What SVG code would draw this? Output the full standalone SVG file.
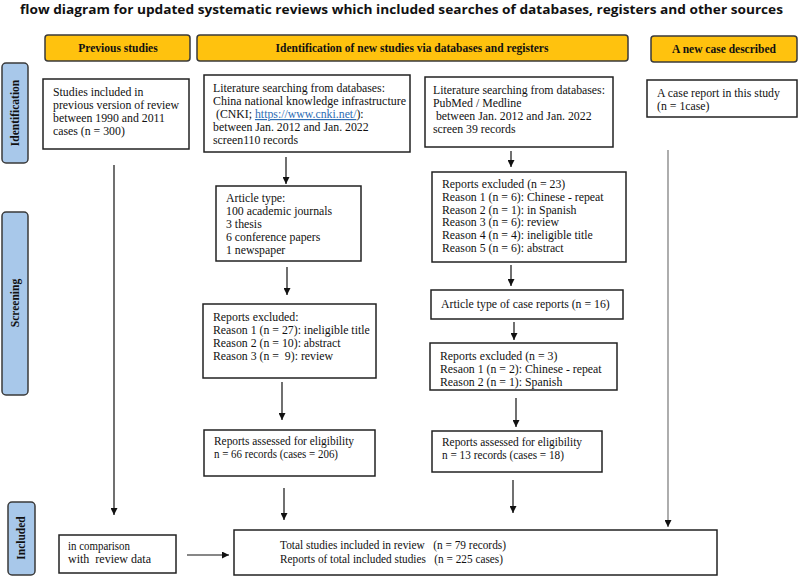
<svg xmlns="http://www.w3.org/2000/svg" width="800" height="577" viewBox="0 0 800 577">
<style>
.bg{fill:#ffffff}
.hdr rect{fill:#ffc20e;stroke:#3a3a3a;stroke-width:1.5}
.hdr text{font-family:"Liberation Serif",serif;font-weight:bold;font-size:11.5px;fill:#111;text-anchor:middle}
.side rect{fill:#a8c8ea;stroke:#3a3a3a;stroke-width:1.5}
.side text{font-family:"Liberation Serif",serif;font-weight:bold;font-size:11.5px;fill:#111;text-anchor:middle}
.box rect{fill:#fff;stroke:#222;stroke-width:1.5}
.box text{font-family:"Liberation Serif",serif;font-size:11.8px;fill:#111;white-space:pre}
.title{font-family:"Open Sans","Liberation Sans",sans-serif;font-weight:700;font-size:12.5px;fill:#111}
.link{fill:#2e6db4;text-decoration:underline}
.conn line{stroke:#111;stroke-width:1.2}
.conn line.grey{stroke:#777}
</style>
<defs>
<marker id="ah" viewBox="0 0 10 10" refX="10" refY="5" markerWidth="7" markerHeight="7" markerUnits="userSpaceOnUse" orient="auto">
<path d="M0,0 L10,5 L0,10 z" fill="#111"/>
</marker>
</defs>
<rect class="bg" x="0" y="0" width="800" height="577"/>
<text class="title" x="20" y="14" textLength="763" lengthAdjust="spacingAndGlyphs">flow diagram for updated systematic reviews which included searches of databases, registers and other sources</text>

<g id="hdr-previous" class="hdr"><rect x="45" y="35" width="145" height="26" rx="3"/><text x="118" y="52">Previous studies</text></g>
<g id="hdr-identification" class="hdr"><rect x="197" y="35" width="431" height="26" rx="3"/><text x="412" y="52">Identification of new studies via databases and registers</text></g>
<g id="hdr-newcase" class="hdr"><rect x="651" y="36" width="146" height="26" rx="3"/><text x="724" y="53">A new case described</text></g>

<g id="side-identification" class="side"><rect x="2" y="63" width="26" height="100" rx="4"/><text transform="translate(19,113) rotate(-90)">Identification</text></g>
<g id="side-screening" class="side"><rect x="2" y="212" width="26" height="183" rx="4"/><text transform="translate(19,303) rotate(-90)">Screening</text></g>
<g id="side-included" class="side"><rect x="8" y="502" width="27" height="73" rx="4"/><text transform="translate(25,538) rotate(-90)">Included</text></g>

<g id="box-previous" class="box"><rect x="43" y="79" width="146" height="70"/>
<text x="53" y="96">Studies included in</text>
<text x="53" y="109">previous version of review</text>
<text x="53" y="122">between 1990 and 2011</text>
<text x="53" y="135">cases (n = 300)</text></g>

<g id="box-cnki" class="box"><rect x="204" y="75" width="206" height="77"/>
<text x="213" y="92">Literature searching from databases:</text>
<text x="213" y="105" textLength="193" lengthAdjust="spacingAndGlyphs">China national knowledge infrastructure</text>
<text x="213" y="118"> (CNKI; <tspan class="link">https://www.cnki.net/</tspan>):</text>
<text x="213" y="131">between Jan. 2012 and Jan. 2022</text>
<text x="213" y="144">screen110 records</text></g>

<g id="box-article-type" class="box"><rect x="216" y="186" width="145" height="75"/>
<text x="226" y="202">Article type:</text>
<text x="226" y="215">100 academic journals</text>
<text x="226" y="228">3 thesis</text>
<text x="226" y="241">6 conference papers</text>
<text x="226" y="254">1 newspaper</text></g>

<g id="box-excluded-cnki" class="box"><rect x="203" y="304" width="173" height="74"/>
<text x="213" y="321">Reports excluded:</text>
<text x="213" y="334">Reason 1 (n = 27): ineligible title</text>
<text x="213" y="347">Reason 2 (n = 10): abstract</text>
<text x="213" y="360">Reason 3 (n =  9): review</text></g>

<g id="box-eligible-cnki" class="box"><rect x="204" y="430" width="171" height="46"/>
<text x="214" y="445" textLength="140" lengthAdjust="spacingAndGlyphs">Reports assessed for eligibility</text>
<text x="214" y="458" textLength="124" lengthAdjust="spacingAndGlyphs">n = 66 records (cases = 206)</text></g>

<g id="box-pubmed" class="box"><rect x="425" y="77" width="188" height="70"/>
<text x="433" y="94">Literature searching from databases:</text>
<text x="433" y="107">PubMed / Medline</text>
<text x="433" y="120"> between Jan. 2012 and Jan. 2022</text>
<text x="433" y="133">screen 39 records</text></g>

<g id="box-excluded-pubmed" class="box"><rect x="432" y="172" width="194" height="90"/>
<text x="442" y="188">Reports excluded (n = 23)</text>
<text x="442" y="200.8">Reason 1 (n = 6): Chinese - repeat</text>
<text x="442" y="213.6">Reason 2 (n = 1): in Spanish</text>
<text x="442" y="226.4">Reason 3 (n = 6): review</text>
<text x="442" y="239.2">Reason 4 (n = 4): ineligible title</text>
<text x="442" y="252">Reason 5 (n = 6): abstract</text></g>

<g id="box-case-reports" class="box"><rect x="431" y="290" width="192" height="29"/>
<text x="441" y="308">Article type of case reports (n = 16)</text></g>

<g id="box-excluded-case" class="box"><rect x="430" y="343" width="187" height="47"/>
<text x="440" y="360">Reports excluded (n = 3)</text>
<text x="440" y="373">Resaon 1 (n = 2): Chinese - repeat</text>
<text x="440" y="386">Reason 2 (n = 1): Spanish</text></g>

<g id="box-eligible-pubmed" class="box"><rect x="432" y="431" width="170" height="41"/>
<text x="442" y="446" textLength="140" lengthAdjust="spacingAndGlyphs">Reports assessed for eligibility</text>
<text x="442" y="459" textLength="122" lengthAdjust="spacingAndGlyphs">n = 13 records (cases = 18)</text></g>

<g id="box-case" class="box"><rect x="647" y="80" width="150" height="37"/>
<text x="657" y="97">A case report in this study</text>
<text x="657" y="110">(n = 1case)</text></g>

<g id="box-comparison" class="box"><rect x="59" y="535" width="117" height="38"/>
<text x="68" y="550" textLength="62" lengthAdjust="spacingAndGlyphs">in comparison</text>
<text x="68" y="563" textLength="83" lengthAdjust="spacingAndGlyphs">with  review data</text></g>

<g id="box-total" class="box"><rect x="234" y="530" width="483" height="45"/>
<text x="280" y="549" textLength="226" lengthAdjust="spacingAndGlyphs">Total studies included in review   (n = 79 records)</text>
<text x="280" y="563" textLength="223" lengthAdjust="spacingAndGlyphs">Reports of total included studies   (n = 225 cases)</text></g>

<g id="connectors" class="conn">
<line x1="286" y1="157" x2="286" y2="184" marker-end="url(#ah)"/>
<line x1="287" y1="267" x2="287" y2="295" marker-end="url(#ah)"/>
<line x1="282" y1="382" x2="282" y2="420" marker-end="url(#ah)"/>
<line x1="511" y1="151" x2="511" y2="167" marker-end="url(#ah)"/>
<line x1="511" y1="265" x2="511" y2="286" marker-end="url(#ah)"/>
<line x1="514" y1="322" x2="514" y2="340" marker-end="url(#ah)"/>
<line x1="516" y1="398" x2="516" y2="427" marker-end="url(#ah)"/>
<line x1="114" y1="165" x2="114" y2="515" marker-end="url(#ah)"/>
<line class="grey" x1="668" y1="150" x2="668" y2="527" marker-end="url(#ah)"/>
<line x1="284" y1="488" x2="284" y2="520" marker-end="url(#ah)"/>
<line x1="513" y1="480" x2="513" y2="513" marker-end="url(#ah)"/>
<line x1="187" y1="555" x2="229" y2="555" marker-end="url(#ah)"/>
</g>
</svg>
